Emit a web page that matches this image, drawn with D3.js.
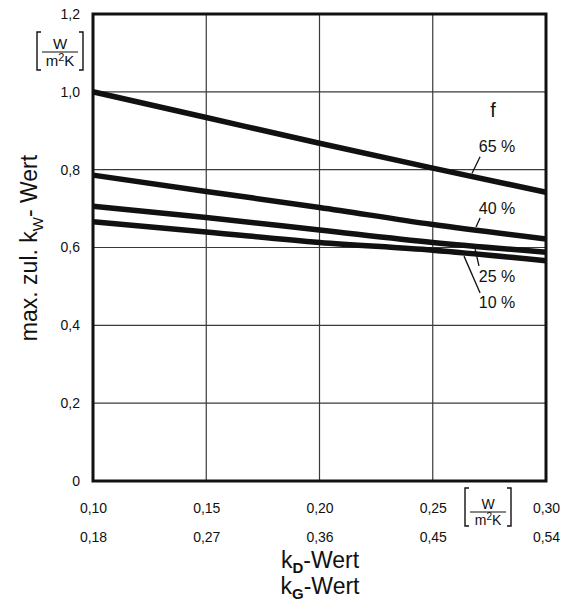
<!DOCTYPE html>
<html>
<head>
<meta charset="utf-8">
<style>
    body { margin: 0; background: #fff; }
    svg text { font-family: "Liberation Sans", Arial, sans-serif; fill: #111; }
</style>
</head>
<body>
<script src="https://cdn.jsdelivr.net/npm/d3@7"></script>
<script>
// k_D values along the x axis and the matching k_G values (second label row)
var kD = [0.10, 0.15, 0.20, 0.25, 0.30]
var kG = [0.18, 0.27, 0.36, 0.45, 0.54]
var yTicks = [0, 0.2, 0.4, 0.6, 0.8, 1.0, 1.2]

// max. zul. k_W per glazing share f, read at each k_D value
var f65 = [1.000, 0.934, 0.868, 0.804, 0.742]
var f40 = [0.786, 0.744, 0.703, 0.659, 0.622]
var f25 = [0.706, 0.677, 0.645, 0.613, 0.588]
var f10 = [0.666, 0.640, 0.613, 0.593, 0.566]

var seriesNames = ["65 %", "40 %", "25 %", "10 %"]
var seriesValues = [f65, f40, f25, f10]

// label anchor (data units) and where its leader meets the curve
var labelX = [0.2784, 0.2784, 0.2784, 0.2784]
var labelY = [0.845, 0.686, 0.511, 0.445]
var leadFromX = [0.2709, 0.2709, 0.2704, 0.2709]
var leadFromY = [0.833, 0.676, 0.553, 0.483]
var leadToX = [0.2673, 0.2691, 0.2687, 0.2638]

var width = 568, height = 602
var plotLeft = 93, plotRight = 546, plotTop = 14, plotBottom = 481

var svg = d3.select("body").append("svg")
    .attr("width", width)
    .attr("height", height)

var de = d3.formatLocale({decimal: ",", thousands: ".", grouping: [3], currency: ["", " €"]})

var x = d3.scaleLinear().domain([0.10, 0.30]).range([plotLeft, plotRight])
var xG = d3.scaleLinear().domain([0.18, 0.54]).range([plotLeft, plotRight])
var y = d3.scaleLinear().domain([0, 1.2]).range([plotBottom, plotTop])

// grid
svg.append("g").selectAll("line")
    .data(kD.slice(1, -1))
    .enter().append("line")
    .attr("x1", d => x(d)).attr("x2", d => x(d))
    .attr("y1", plotTop).attr("y2", plotBottom)
    .attr("stroke", "#3a3a3a").attr("stroke-width", 1.2)

svg.append("g").selectAll("line")
    .data(yTicks.slice(1, -1))
    .enter().append("line")
    .attr("x1", plotLeft).attr("x2", plotRight)
    .attr("y1", d => y(d)).attr("y2", d => y(d))
    .attr("stroke", "#3a3a3a").attr("stroke-width", 1.2)

// curves
var line = d3.line()
    .x((d, i) => x(kD[i]))
    .y(d => y(d))
    .curve(d3.curveMonotoneX)

svg.append("g").selectAll("path")
    .data(seriesValues)
    .enter().append("path")
    .attr("d", d => line(d))
    .attr("fill", "none")
    .attr("stroke", "#111")
    .attr("stroke-width", 5.5)

// frame
svg.append("rect")
    .attr("x", plotLeft).attr("y", plotTop)
    .attr("width", plotRight - plotLeft).attr("height", plotBottom - plotTop)
    .attr("fill", "none")
    .attr("stroke", "#111")
    .attr("stroke-width", 3)

// axes
var yAxis = d3.axisLeft(y)
    .tickValues(yTicks)
    .tickSize(0)
    .tickPadding(13)
    .tickFormat(d => d === 0 ? "0" : de.format(".1f")(d))

var gy = svg.append("g")
    .attr("transform", `translate(${plotLeft},0)`)
    .call(yAxis)
gy.select(".domain").remove()
gy.selectAll("text").style("font-size", "14px")

var gx1 = svg.append("g")
    .attr("transform", `translate(0,${plotBottom})`)
    .call(d3.axisBottom(x).tickValues(kD).tickSize(0).tickPadding(22).tickFormat(de.format(".2f")))
var gx2 = svg.append("g")
    .attr("transform", `translate(0,${plotBottom})`)
    .call(d3.axisBottom(xG).tickValues(kG).tickSize(0).tickPadding(51).tickFormat(de.format(".2f")))
;[gx1, gx2].forEach(g => {
    g.select(".domain").remove()
    g.selectAll("text").style("font-size", "14px")
})

// unit [W / m²K]
function unit(cx, cy, up, down, fs) {
    var g = svg.append("g").attr("transform", `translate(${cx},${cy})`)
    g.append("path")
        .attr("d", `M-19,${-up} h-4 V${down} h4 M19,${-up} h4 V${down} h-4`)
        .attr("fill", "none").attr("stroke", "#111").attr("stroke-width", 1.4)
    g.append("line")
        .attr("x1", -18).attr("x2", 18)
        .attr("stroke", "#111").attr("stroke-width", 1.2)
    g.append("text")
        .attr("text-anchor", "middle").attr("y", -3)
        .style("font-size", fs + "px").text("W")
    var t = g.append("text")
        .attr("text-anchor", "middle").attr("y", Math.round(fs * 0.72) + 3)
        .style("font-size", fs + "px")
    t.append("tspan").text("m")
    t.append("tspan").attr("dy", -5).style("font-size", Math.round(fs * 0.7) + "px").text("2")
    t.append("tspan").attr("dy", 5).text("K")
}
unit(60, 52, 20, 18, 15)
unit(488, 512, 24, 14, 14)

// y title
var yt = svg.append("text")
    .attr("transform", "translate(37,248) rotate(-90)")
    .attr("text-anchor", "middle")
    .style("font-size", "23px")
yt.append("tspan").text("max. zul. k")
yt.append("tspan").attr("dy", 6).style("font-size", "15px").text("W")
yt.append("tspan").attr("dy", -6).text("- Wert")

// x titles
;[["D", 568], ["G", 594]].forEach(([s, by]) => {
    var t = svg.append("text")
        .attr("x", 320).attr("y", by)
        .attr("text-anchor", "middle")
        .style("font-size", "23px")
    t.append("tspan").text("k")
    t.append("tspan").attr("dy", 5).style("font-size", "15px").style("font-weight", "bold").text(s)
    t.append("tspan").attr("dy", -5).text("-Wert")
})

// f and series labels
svg.append("text")
    .attr("x", x(0.2766)).attr("y", y(0.935))
    .attr("text-anchor", "middle")
    .style("font-size", "20px")
    .text("f")

seriesNames.forEach((name, i) => {
    var at = d3.scaleLinear().domain(kD).range(seriesValues[i])
    var toY = at(leadToX[i])
    var above = leadFromY[i] > toY
    svg.append("line")
        .attr("x1", x(leadFromX[i])).attr("y1", y(leadFromY[i]))
        .attr("x2", x(leadToX[i])).attr("y2", y(toY) + (above ? -3 : 3))
        .attr("stroke", "#111").attr("stroke-width", 1.3)
    svg.append("text")
        .attr("x", x(labelX[i])).attr("y", y(labelY[i]))
        .attr("text-anchor", "middle")
        .style("font-size", "16px")
        .text(name)
})
</script>
</body>
</html>
